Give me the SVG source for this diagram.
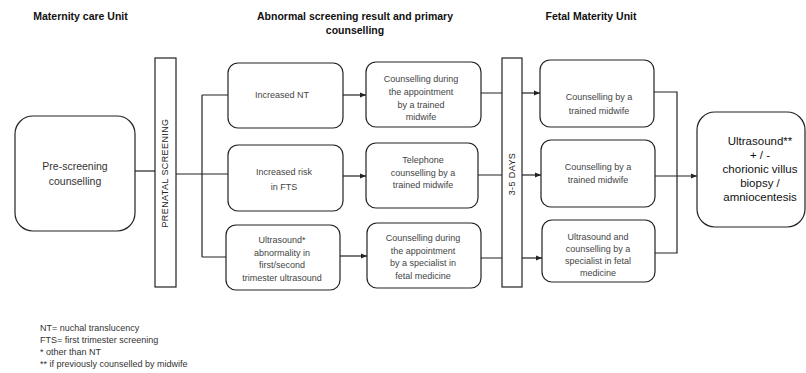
<svg xmlns="http://www.w3.org/2000/svg" width="806" height="373" viewBox="0 0 806 373">
<style>
text{font-family:"Liberation Sans",Arial,sans-serif;}
.hd{font-size:10.5px;font-weight:bold;fill:#111;text-anchor:middle;}
.bx{fill:#fff;stroke:#222;stroke-width:1.2;}
.t{font-size:9px;fill:#444;text-anchor:middle;}
.tb{font-size:10.5px;fill:#333;text-anchor:middle;}
.tf{font-size:11.5px;fill:#111;text-anchor:middle;}
.vt{font-size:9px;fill:#222;text-anchor:middle;letter-spacing:0.4px;}
.fn{font-size:9px;fill:#333;}
.ln{fill:none;stroke:#222;stroke-width:1.2;}
</style>
<defs>
<marker id="ah" viewBox="0 0 10 10" refX="10" refY="5" markerWidth="6" markerHeight="6" orient="auto" markerUnits="userSpaceOnUse">
<path d="M0,1 L10,5 L0,9 z" fill="#222"/>
</marker>
</defs>
<rect width="806" height="373" fill="#fff"/>
<g id="headers">
<text class="hd" x="80.5" y="20">Maternity care Unit</text>
<text class="hd" x="355" y="20">Abnormal screening result and primary</text>
<text class="hd" x="355" y="34">counselling</text>
<text class="hd" x="591" y="20">Fetal Materity Unit</text>
</g>
<g id="connectors">
<path class="ln" d="M135,171 H155"/>
<path class="ln" d="M176,174 H228 M202,95 V257 M202,95 H228 M202,257 H226"/>
<path class="ln" marker-end="url(#ah)" d="M343,95 H366"/>
<path class="ln" marker-end="url(#ah)" d="M343,176 H366"/>
<path class="ln" marker-end="url(#ah)" d="M340,256 H367"/>
<path class="ln" d="M481,93 H502 M478,175 H502 M481,258 H502"/>
<path class="ln" marker-end="url(#ah)" d="M522,93 H540"/>
<path class="ln" marker-end="url(#ah)" d="M522,175 H541"/>
<path class="ln" marker-end="url(#ah)" d="M522,258 H542"/>
<path class="ln" d="M654,92 H677 V253 H655"/>
<path class="ln" marker-end="url(#ah)" d="M655,176 H697"/>
</g>
<g id="pre-screening">
<rect class="bx" x="15" y="116" width="120" height="115" rx="18"/>
<text class="tb" x="75" y="170">Pre-screening</text>
<text class="tb" x="75" y="185">counselling</text>
</g>
<g id="prenatal-screening">
<rect class="bx" x="155" y="58" width="21" height="229"/>
<text class="vt" transform="translate(168,173) rotate(-90)">PRENATAL SCREENING</text>
</g>
<g id="increased-nt">
<rect class="bx" x="228" y="63" width="115" height="65" rx="10"/>
<text class="t" x="282" y="98">Increased NT</text>
</g>
<g id="increased-risk">
<rect class="bx" x="228" y="145" width="115" height="66" rx="10"/>
<text class="t" x="284" y="175">Increased risk</text>
<text class="t" x="284" y="190">in FTS</text>
</g>
<g id="ultrasound-abnormality">
<rect class="bx" x="226" y="225" width="114" height="65" rx="10"/>
<text class="t" x="282" y="243">Ultrasound*</text>
<text class="t" x="282" y="255.5">abnormality in</text>
<text class="t" x="282" y="268">first/second</text>
<text class="t" x="282" y="280.5">trimester ultrasound</text>
</g>
<g id="counselling-appointment-midwife">
<rect class="bx" x="366" y="62" width="115" height="65" rx="10"/>
<text class="t" x="421" y="82">Counselling during</text>
<text class="t" x="421" y="95">the appointment</text>
<text class="t" x="421" y="108">by a trained</text>
<text class="t" x="421" y="120">midwife</text>
</g>
<g id="telephone-counselling">
<rect class="bx" x="366" y="143" width="112" height="65" rx="10"/>
<text class="t" x="423" y="163">Telephone</text>
<text class="t" x="423" y="175.5">counselling by a</text>
<text class="t" x="423" y="188">trained midwife</text>
</g>
<g id="counselling-appointment-specialist">
<rect class="bx" x="367" y="223" width="114" height="65" rx="10"/>
<text class="t" x="423" y="241">Counselling during</text>
<text class="t" x="423" y="253.5">the appointment</text>
<text class="t" x="423" y="266">by a specialist in</text>
<text class="t" x="423" y="279">fetal medicine</text>
</g>
<g id="days">
<rect class="bx" x="502" y="58" width="20" height="229"/>
<text class="vt" transform="translate(515,174) rotate(-90)">3-5 DAYS</text>
</g>
<g id="fmu-midwife-1">
<rect class="bx" x="540" y="60" width="114" height="67" rx="10"/>
<text class="t" x="599" y="100">Counselling by a</text>
<text class="t" x="599" y="114">trained midwife</text>
</g>
<g id="fmu-midwife-2">
<rect class="bx" x="541" y="140" width="114" height="67" rx="10"/>
<text class="t" x="598" y="170">Counselling by a</text>
<text class="t" x="598" y="183">trained midwife</text>
</g>
<g id="fmu-specialist">
<rect class="bx" x="542" y="220" width="113" height="62" rx="10"/>
<text class="t" x="598" y="240">Ultrasound and</text>
<text class="t" x="598" y="251.5">counselling by a</text>
<text class="t" x="598" y="264">specialist in fetal</text>
<text class="t" x="598" y="276">medicine</text>
</g>
<g id="ultrasound-final">
<rect class="bx" x="697" y="112" width="108" height="115" rx="18"/>
<text class="tf" x="760" y="145">Ultrasound**</text>
<text class="tf" x="760" y="159">+ / -</text>
<text class="tf" x="760" y="173">chorionic villus</text>
<text class="tf" x="760" y="187">biopsy /</text>
<text class="tf" x="760" y="201">amniocentesis</text>
</g>
<g id="footnotes">
<text class="fn" x="40" y="331">NT= nuchal translucency</text>
<text class="fn" x="40" y="343">FTS= first trimester screening</text>
<text class="fn" x="40" y="355">* other than NT</text>
<text class="fn" x="40" y="367">** if previously counselled by midwife</text>
</g>
</svg>
